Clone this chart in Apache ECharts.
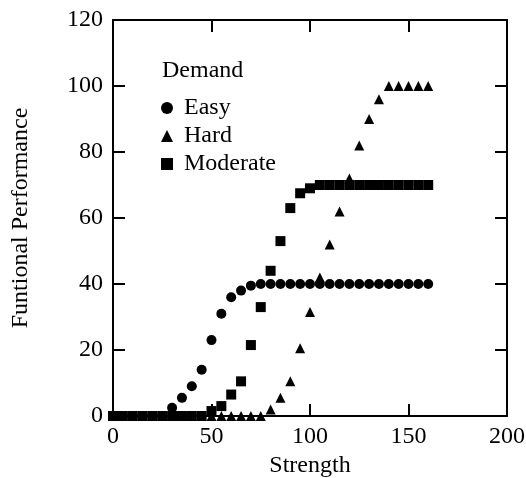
<!DOCTYPE html>
<html>
<head>
<meta charset="utf-8">
<script src="https://cdn.jsdelivr.net/npm/echarts@6/dist/echarts.min.js"></script>
<style>
  html, body { margin: 0; padding: 0; background: #fff; }
  #main { width: 526px; height: 478px; }
</style>
</head>
<body>
<div id="main"></div>
<script>
// 横轴：强度
const strength = [0, 5, 10, 15, 20, 25, 30, 35, 40, 45, 50, 55, 60, 65, 70, 75, 80,
    85, 90, 95, 100, 105, 110, 115, 120, 125, 130, 135, 140, 145, 150, 155, 160];
const easy = [0, 0, 0, 0, 0, 0, 2.5, 5.5, 9, 14, 23, 31, 36, 38, 39.5, 40, 40,
    40, 40, 40, 40, 40, 40, 40, 40, 40, 40, 40, 40, 40, 40, 40, 40];
const hard = [0, 0, 0, 0, 0, 0, 0, 0, 0, 0, 0, 0, 0, 0, 0, 0, 2,
    5.5, 10.5, 20.5, 31.5, 42, 52, 62, 72, 82, 90, 96, 100, 100, 100, 100, 100];
const moderate = [0, 0, 0, 0, 0, 0, 0, 0, 0, 0, 1.5, 3, 6.5, 10.5, 21.5, 33, 44,
    53, 63, 67.5, 69, 70, 70, 70, 70, 70, 70, 70, 70, 70, 70, 70, 70];
const xTicks = [0, 50, 100, 150, 200];
const yTicks = [0, 20, 40, 60, 80, 100, 120];

const font = 'Liberation Serif';
const pairs = arr => strength.map((x, i) => [x, arr[i]]);

const boxLine = { show: true, onZero: false, lineStyle: { color: '#000', width: 2 } };
const inTick = { show: true, inside: true, length: 12, lineStyle: { color: '#000', width: 2 } };
const txt = { fontFamily: font, fontSize: 24, color: '#000' };
const dot = { color: '#000', opacity: 1 };

const option = {
    animation: false,
    backgroundColor: '#fff',
    textStyle: { fontFamily: font, color: '#000' },
    title: {
        text: 'Demand',
        left: 162,
        top: 59,
        padding: 0,
        textStyle: Object.assign({ fontWeight: 'normal' }, txt)
    },
    legend: {
        orient: 'vertical',
        left: 156,
        top: 91,
        itemWidth: 12,
        itemHeight: 12,
        itemGap: 4,
        data: [
            { name: 'Easy', icon: 'circle' },
            { name: 'Hard', icon: 'triangle' },
            { name: 'Moderate', icon: 'rect' }
        ],
        itemStyle: { opacity: 1 },
        textStyle: Object.assign({ lineHeight: 24, padding: [0, 0, 0, 6] }, txt)
    },
    grid: { left: 113, right: 19, top: 20, bottom: 62, outerBoundsMode: 'none' },
    xAxis: [{
        type: 'value',
        min: xTicks[0],
        max: xTicks[xTicks.length - 1],
        interval: 50,
        name: 'Strength',
        nameLocation: 'middle',
        nameGap: 38,
        nameTextStyle: txt,
        axisLine: boxLine,
        axisTick: inTick,
        axisLabel: Object.assign({ margin: 9 }, txt),
        splitLine: { show: false }
    }, {
        type: 'value',
        position: 'top',
        min: xTicks[0],
        max: xTicks[xTicks.length - 1],
        interval: 50,
        axisLine: boxLine,
        axisTick: inTick,
        axisLabel: { show: false },
        splitLine: { show: false }
    }],
    yAxis: [{
        type: 'value',
        min: yTicks[0],
        max: yTicks[yTicks.length - 1],
        interval: 20,
        name: 'Funtional Performance',
        nameLocation: 'middle',
        nameGap: 80,
        nameTextStyle: txt,
        axisLine: boxLine,
        axisTick: inTick,
        axisLabel: Object.assign({ margin: 10 }, txt),
        splitLine: { show: false }
    }, {
        type: 'value',
        position: 'right',
        min: yTicks[0],
        max: yTicks[yTicks.length - 1],
        interval: 20,
        axisLine: boxLine,
        axisTick: inTick,
        axisLabel: { show: false },
        splitLine: { show: false }
    }],
    series: [
        {
            name: 'Easy',
            type: 'scatter',
            symbol: 'circle',
            symbolSize: 10,
            itemStyle: dot,
            data: pairs(easy)
        },
        {
            name: 'Hard',
            type: 'scatter',
            symbol: 'triangle',
            symbolSize: 10,
            itemStyle: dot,
            data: pairs(hard)
        },
        {
            name: 'Moderate',
            type: 'scatter',
            symbol: 'rect',
            symbolSize: 10,
            itemStyle: dot,
            data: pairs(moderate)
        }
    ]
};

const myChart = echarts.init(document.getElementById('main'));
myChart.setOption(option);
</script>
</body>
</html>
